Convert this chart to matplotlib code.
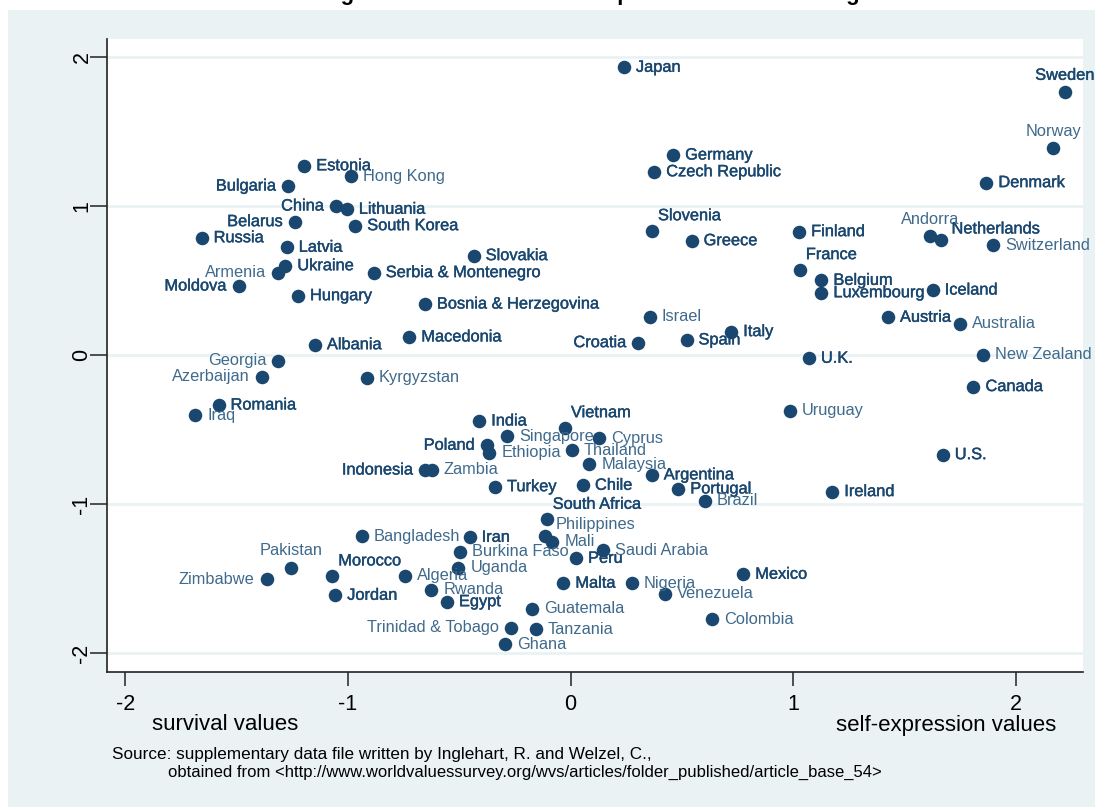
import matplotlib.pyplot as plt
import matplotlib.patheffects as pe
from matplotlib.patches import Rectangle

# survival/self-expression (x) vs traditional/secular-rational (y) scores
countries = [
    'Estonia', 'Hong Kong', 'Bulgaria', 'China', 'Lithuania', 'Belarus', 'South Korea',
    'Russia', 'Latvia', 'Slovakia', 'Ukraine', 'Armenia', 'Serbia & Montenegro', 'Moldova',
    'Hungary', 'Bosnia & Herzegovina', 'Macedonia', 'Albania', 'Georgia', 'Azerbaijan',
    'Kyrgyzstan', 'Romania', 'Iraq', 'India', 'Singapore', 'Poland', 'Ethiopia',
    'Indonesia', 'Zambia', 'Turkey', 'Bangladesh', 'Iran', 'Burkina Faso', 'Pakistan',
    'Uganda', 'Morocco', 'Algeria', 'Zimbabwe', 'Rwanda', 'Jordan', 'Egypt',
    'Trinidad & Tobago', 'Ghana', 'Vietnam', 'Cyprus', 'Thailand', 'Malaysia', 'Argentina',
    'Chile', 'Portugal', 'Brazil', 'South Africa', 'Philippines', 'Mali', 'Peru',
    'Saudi Arabia', 'Mexico', 'Malta', 'Nigeria', 'Venezuela', 'Guatemala', 'Colombia',
    'Tanzania', 'Uruguay', 'Japan', 'Sweden', 'Norway', 'Germany', 'Czech Republic',
    'Denmark', 'Slovenia', 'Greece', 'Finland', 'Andorra', 'Netherlands', 'Switzerland',
    'France', 'Belgium', 'Luxembourg', 'Iceland', 'Israel', 'Austria', 'Australia',
    'Italy', 'Spain', 'Croatia', 'U.K.', 'New Zealand', 'Canada', 'U.S.', 'Ireland',
]
surv_self = [
    -1.196, -0.987, -1.268, -1.053, -1.005, -1.238, -0.967,
    -1.657, -1.275, -0.435, -1.281, -1.315, -0.884, -1.491,
    -1.224, -0.654, -0.724, -1.148, -1.313, -1.386,
    -0.916, -1.581, -1.686, -0.410, -0.285, -0.376, -0.365,
    -0.654, -0.624, -0.339, -0.937, -0.453, -0.496, -1.257,
    -0.504, -1.070, -0.745, -1.365, -0.625, -1.057, -0.555,
    -0.266, -0.294, -0.025, 0.127, 0.005, 0.085, 0.365,
    0.056, 0.484, 0.604, -0.107, -0.115, -0.082, 0.025,
    0.145, 0.776, -0.032, 0.275, 0.426, -0.174, 0.637,
    -0.155, 0.986, 0.240, 2.220, 2.169, 0.461, 0.376,
    1.868, 0.366, 0.544, 1.027, 1.615, 1.662, 1.897,
    1.030, 1.127, 1.127, 1.627, 0.356, 1.426, 1.748,
    0.722, 0.521, 0.305, 1.071, 1.855, 1.810, 1.672, 1.176,
]
trad_sec = [
    1.270, 1.201, 1.134, 1.000, 0.978, 0.895, 0.868,
    0.787, 0.723, 0.667, 0.599, 0.553, 0.553, 0.463,
    0.398, 0.342, 0.121, 0.069, -0.040, -0.145,
    -0.152, -0.336, -0.405, -0.443, -0.546, -0.606, -0.656,
    -0.772, -0.772, -0.884, -1.217, -1.224, -1.322, -1.427,
    -1.427, -1.483, -1.483, -1.506, -1.575, -1.613, -1.656,
    -1.832, -1.942, -0.488, -0.559, -0.640, -0.732, -0.805,
    -0.875, -0.899, -0.980, -1.103, -1.213, -1.255, -1.365,
    -1.311, -1.472, -1.532, -1.532, -1.604, -1.705, -1.774,
    -1.841, -0.374, 1.931, 1.763, 1.387, 1.342, 1.230,
    1.157, 0.834, 0.767, 0.828, 0.796, 0.772, 0.738,
    0.573, 0.501, 0.418, 0.436, 0.257, 0.253, 0.210,
    0.157, 0.101, 0.083, -0.022, 0.000, -0.212, -0.669, -0.917,
]
light_labels = [
    'Hong Kong', 'Armenia', 'Georgia', 'Azerbaijan', 'Kyrgyzstan', 'Iraq', 'Norway',
    'Andorra', 'Switzerland', 'Israel', 'Australia', 'New Zealand', 'Uruguay',
    'Singapore', 'Ethiopia', 'Zambia', 'Cyprus', 'Thailand', 'Malaysia', 'Brazil',
    'Philippines', 'Bangladesh', 'Mali', 'Burkina Faso', 'Saudi Arabia', 'Uganda',
    'Algeria', 'Zimbabwe', 'Pakistan', 'Rwanda', 'Nigeria', 'Venezuela', 'Guatemala',
    'Colombia', 'Trinidad & Tobago', 'Tanzania', 'Ghana',
]
yticks = [-2, -1, 0, 1, 2]
xticks = [-2, -1, 0, 1, 2]

# label clock positions (default 3 o'clock)
label_pos = {
    'Bulgaria': 9, 'China': 9, 'Belarus': 9, 'Armenia': 9, 'Moldova': 9, 'Georgia': 9,
    'Azerbaijan': 9, 'Croatia': 9, 'Poland': 9, 'Indonesia': 9, 'Zimbabwe': 9,
    'Trinidad & Tobago': 9,
    'Pakistan': 12, 'Sweden': 12, 'Norway': 12, 'Andorra': 12,
    'Morocco': 1, 'Slovenia': 1, 'France': 1, 'Vietnam': 1, 'South Africa': 1,
    'Netherlands': 2, 'Philippines': 2,
}
offsets = {
    3: (12, 0, 'left'), 9: (-12, 0, 'right'), 12: (0, 17, 'center'),
    1: (6, 15, 'left'), 2: (11, 11, 'left'),
}

navy = '#1a476f'
light_navy = '#3f6a8c'
bg = '#eaf2f3'
plt.rcParams['font.family'] = ['Liberation Sans', 'DejaVu Sans']

fig = plt.figure(figsize=(10.95, 8.07), dpi=100)
fig.patches.append(Rectangle((8 / 1095, 0), 1 - 8 / 1095, 1 - 10 / 807,
                             transform=fig.transFigure, facecolor=bg,
                             edgecolor='none', zorder=-5))
fig.text(0.545, 1 + 0.5 / 807, 'Inglehart-Welzel Cultural Map of the World Rankings',
         ha='center', va='baseline', fontsize=16, fontweight='bold', color='black')

ax = fig.add_axes([107 / 1095, 1 - 672 / 807, (1083 - 107) / 1095, (672 - 39) / 807])
ax.set_facecolor('white')
ax.set_xlim(-2.082, 2.302)
ax.set_ylim(-2.128, 2.121)

ax.scatter(surv_self, trad_sec, s=95, color=navy, zorder=3, linewidths=0)

for name, x, y in zip(countries, surv_self, trad_sec):
    dx, dy, ha = offsets[label_pos.get(name, 3)]
    light = name in light_labels
    t = ax.annotate(name, (x, y), xytext=(dx, dy), textcoords='offset pixels',
                    ha=ha, va='center', fontsize=11.8,
                    color=light_navy if light else navy, zorder=4,
                    annotation_clip=False)
    if not light:
        t.set_path_effects([pe.withStroke(linewidth=0.3, foreground=navy)])

ax.set_yticks(yticks)
ax.set_xticks(xticks)
ax.set_yticklabels([str(v) for v in yticks], rotation=90, va='center')
ax.set_xticklabels([str(v) for v in xticks])
ax.tick_params(axis='y', length=12, width=1.2, color='#333333', labelsize=15.5, pad=-1.5)
ax.tick_params(axis='x', length=10, width=1.2, color='#333333', labelsize=15.5, pad=6)
ax.grid(axis='y', color=bg, linewidth=2)
ax.set_axisbelow(True)
for side in ['top', 'right']:
    ax.spines[side].set_visible(False)
for side in ['left', 'bottom']:
    ax.spines[side].set_color('#222222')
    ax.spines[side].set_linewidth(1.2)

fig.text(152 / 1095, 1 - 725 / 807, 'survival values', ha='left', va='center', fontsize=16)
fig.text(1056 / 1095, 1 - 725 / 807, 'self-expression values', ha='right', va='center',
         fontsize=16)
fig.text(112 / 1095, 1 - 755 / 807,
         'Source: supplementary data file written by Inglehart, R. and Welzel, C.,',
         ha='left', va='center', fontsize=12.3)
fig.text(168 / 1095, 1 - 772 / 807,
         'obtained from <http://www.worldvaluessurvey.org/wvs/articles/folder_published/article_base_54>',
         ha='left', va='center', fontsize=12.0)

fig.savefig('out.png', dpi=100)
